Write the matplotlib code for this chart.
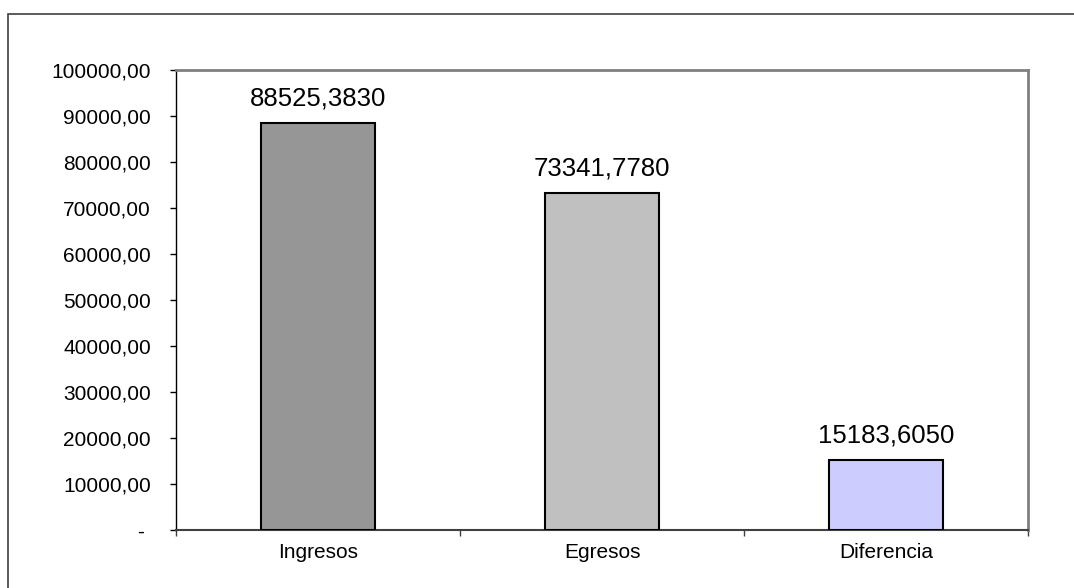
import matplotlib.pyplot as plt
from matplotlib.patches import Rectangle
from matplotlib.ticker import FixedLocator, FuncFormatter

categories = ["Ingresos", "Egresos", "Diferencia"]
values = [88525.3830, 73341.7780, 15183.6050]
colors = ["#969696", "#C0C0C0", "#CCCCFF"]
y_ticks = list(range(0, 100001, 10000))

plt.rcParams['font.family'] = ['Liberation Sans', 'DejaVu Sans']

fig = plt.figure(figsize=(10.74, 5.88), dpi=100)
ax = fig.add_axes([176 / 1074, 58 / 588, 852 / 1074, 460 / 588])

x = list(range(len(categories)))
ax.bar(x, values, width=0.4, color=colors, edgecolor="black", linewidth=1.5, zorder=3)

for xi, v in zip(x, values):
    label = f"{v:.4f}".replace(".", ",")
    ax.annotate(label, (xi, v), xytext=(0, 9), textcoords="offset points",
                ha="center", va="bottom", fontsize=18.5)

ax.set_xlim(-0.5, len(categories) - 0.5)
ax.set_ylim(0, 100000)

# boundary ticks without labels, category names at the centres
ax.xaxis.set_major_locator(FixedLocator([i - 0.5 for i in range(len(categories) + 1)]))
ax.xaxis.set_major_formatter(FuncFormatter(lambda v, p: ""))
ax.xaxis.set_minor_locator(FixedLocator(x))
ax.set_xticklabels(categories, minor=True)
ax.tick_params(axis="x", which="major", direction="out", length=4.5, width=1, color="#404040")
ax.tick_params(axis="x", which="minor", length=0, pad=9, labelsize=15)

ax.set_yticks(y_ticks)
ax.yaxis.set_major_formatter(FuncFormatter(lambda v, p: "- " if v == 0 else f"{int(v)},00"))
ax.tick_params(axis="y", direction="out", length=4.5, width=1, pad=13.5, labelsize=15, color="black")

ax.spines["left"].set_color("black")
ax.spines["left"].set_linewidth(1)
ax.spines["bottom"].set_color("#404040")
ax.spines["bottom"].set_linewidth(1.5)
for s in ("top", "right"):
    ax.spines[s].set_color("#808080")
    ax.spines[s].set_linewidth(2)

# outer chart border
fig.patches.append(Rectangle((8 / 1074, -0.1), 1.2, (588 - 14) / 588 + 0.1,
                             transform=fig.transFigure, fill=False,
                             edgecolor="#404040", linewidth=1.2, clip_on=False))

fig.savefig("out.png", dpi=100)
